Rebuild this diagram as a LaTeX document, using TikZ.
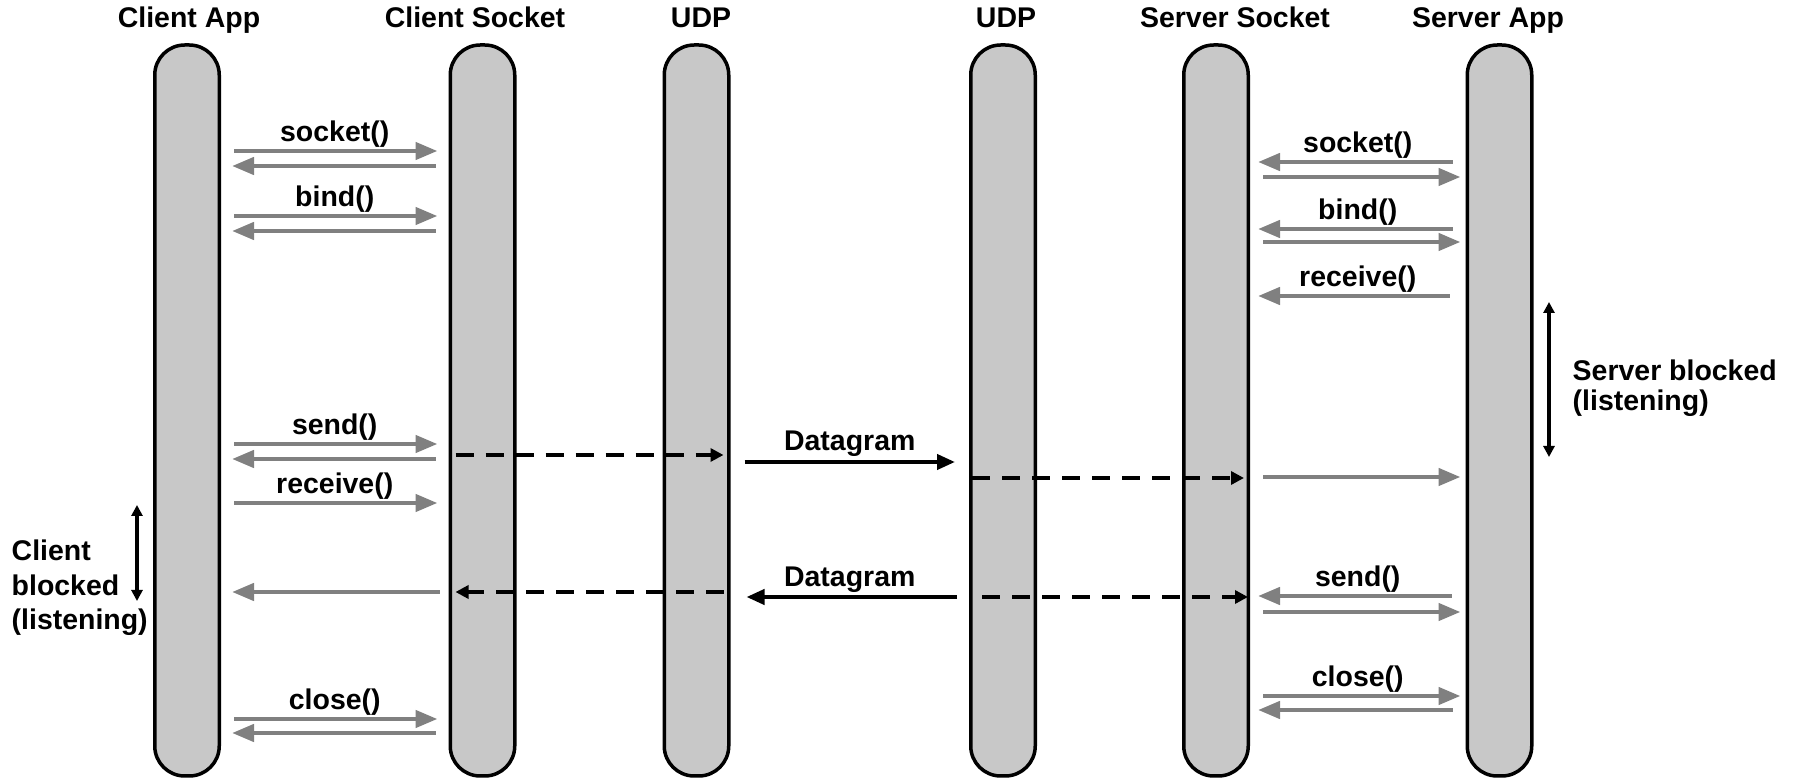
\documentclass[tikz,border=0pt]{standalone}
\usepackage{fontspec}
\setmainfont{Liberation Sans}
\usetikzlibrary{arrows.meta,positioning}
\definecolor{barfill}{RGB}{200,200,200}
\definecolor{callgray}{RGB}{128,128,128}

\begin{document}
\begin{tikzpicture}[x=0.1mm,y=-0.1mm,
    font=\bfseries\fontsize{8.1}{9.8}\selectfont,
    life/.style={draw,line width=0.35mm,fill=barfill,rounded corners=3mm,
        minimum width=6.45mm,minimum height=73.1mm,inner sep=0pt},
    title/.style={anchor=base,inner sep=0pt},
    call/.style={callgray,line width=0.45mm,-{Triangle[length=2.2mm,width=1.7mm]},
        shorten <=1.3mm,shorten >=1.1mm},
    dgram/.style={line width=0.45mm,dash pattern=on 1.8mm off 1.2mm,
        -{Triangle[length=1.3mm,width=1.3mm]}},
    wire/.style={line width=0.4mm,-{Triangle[length=1.8mm,width=1.5mm]}},
    lbl/.style={above,inner sep=0.3pt,text=black},
    block/.style={line width=0.35mm,
        {Triangle[length=1.1mm,width=1.1mm]}-{Triangle[length=1.1mm,width=1.1mm]}}]

    \useasboundingbox (0,0) rectangle (1793,782);

    % lifelines
    \node[life] (capp)  at (187,410.5)  {};
    \node[life] (csock) at (482.5,410.5) {};
    \node[life] (udp1)  at (696.5,410.5) {};
    \node[life] (udp2)  at (1003,410.5) {};
    \node[life] (ssock) at (1216,410.5) {};
    \node[life] (sapp)  at (1499.5,410.5) {};

    \node[title] (tcapp)  at (189,28)  {Client App};
    \node[title] (tcsock) at (475,28)  {Client Socket};
    \node[title] (tudp1)  at (701,28)  {UDP};
    \node[title] (tudp2)  at (1006,28) {UDP};
    \node[title] (tssock) at (1235,28) {Server Socket};
    \node[title] (tsapp)  at (1488,28) {Server App};

    % message levels
    \foreach \lv/\y in {cs1/151,cs2/166,cb1/216,cb2/231,cn1/444,cn2/459,cr1/503,
                        cx/592,cc1/719,cc2/733,ss1/162,ss2/177,sb1/229,sb2/242,
                        sr1/296,sx/477,sn1/596,sn2/612,sc1/696,sc2/710,
                        d1/455,d2/462,d3/478,d5/597}
        \coordinate (\lv) at (0,\y);

    % client side
    \draw[call] (capp.east |- cs1) -- node[lbl] {socket()} (csock.west |- cs1);
    \draw[call] (csock.west |- cs2) -- (capp.east |- cs2);

    \draw[call] (capp.east |- cb1) -- node[lbl] {bind()} (csock.west |- cb1);
    \draw[call] (csock.west |- cb2) -- (capp.east |- cb2);

    \draw[call] (capp.east |- cn1) -- node[lbl] {send()} (csock.west |- cn1);
    \draw[call] (csock.west |- cn2) -- (capp.east |- cn2);

    \draw[call] (capp.east |- cr1) -- node[lbl] {receive()} (csock.west |- cr1);

    \draw[call,shorten <=0.9mm] (csock.west |- cx) -- (capp.east |- cx);

    \draw[call] (capp.east |- cc1) -- node[lbl] {close()} (csock.west |- cc1);
    \draw[call] (csock.west |- cc2) -- (capp.east |- cc2);

    % datagrams
    \draw[dgram,shorten <=0.7mm,shorten >=0.7mm] (csock.west |- d1) -- (udp1.east |- d1);
    \draw[wire,shorten <=1.4mm,shorten >=1.4mm] (udp1.east |- d2)
        -- node[lbl,above=0.25mm] {Datagram} (udp2.west |- d2);
    \draw[dgram,shorten <=0.3mm,shorten >=0.6mm] (udp2.west |- d3) -- (ssock.east |- d3);

    \draw[dgram,shorten <=0.7mm,shorten >=0.7mm] (udp1.east |- cx) -- (csock.west |- cx);
    \draw[wire,shorten <=1.2mm,shorten >=1.6mm] (udp2.west |- d5)
        -- node[lbl,above=0.15mm] {Datagram} (udp1.east |- d5);
    \draw[dgram,shorten <=1.3mm,shorten >=0.2mm] (udp2.west |- d5) -- (ssock.east |- d5);

    % server side
    \draw[call,shorten >=0.8mm] (sapp.west |- ss1) -- node[lbl] {socket()} (ssock.east |- ss1);
    \draw[call,shorten >=0.5mm] (ssock.east |- ss2) -- (sapp.west |- ss2);

    \draw[call,shorten >=0.8mm] (sapp.west |- sb1) -- node[lbl] {bind()} (ssock.east |- sb1);
    \draw[call,shorten >=0.5mm] (ssock.east |- sb2) -- (sapp.west |- sb2);

    \draw[call,shorten <=1.6mm,shorten >=0.8mm] (sapp.west |- sr1)
        -- node[lbl] {receive()} (ssock.east |- sr1);

    \draw[call,shorten >=0.5mm] (ssock.east |- sx) -- (sapp.west |- sx);

    \draw[call,shorten <=1.4mm,shorten >=0.8mm] (sapp.west |- sn1)
        -- node[lbl] {send()} (ssock.east |- sn1);
    \draw[call,shorten >=0.5mm] (ssock.east |- sn2) -- (sapp.west |- sn2);

    \draw[call,shorten >=0.5mm] (ssock.east |- sc1) -- node[lbl] {close()} (sapp.west |- sc1);
    \draw[call,shorten >=0.8mm] (sapp.west |- sc2) -- (ssock.east |- sc2);

    % blocked intervals
    \coordinate (cblk1) at (137,505);
    \coordinate (cblk2) at (137,601);
    \draw[block] (cblk1) -- (cblk2);
    \node[anchor=west,align=left,inner sep=0pt] (cblk) at (11,588)
        {Client\\blocked\\(listening)};

    \coordinate (sblk1) at (1549,302);
    \coordinate (sblk2) at (1549,457);
    \draw[block] (sblk1) -- (sblk2);
    \node[anchor=west,align=left,inner sep=0pt,
        font=\bfseries\fontsize{8.1}{8.6}\selectfont] (sblk) at (1572,388)
        {Server blocked\\(listening)};

\end{tikzpicture}
\end{document}
